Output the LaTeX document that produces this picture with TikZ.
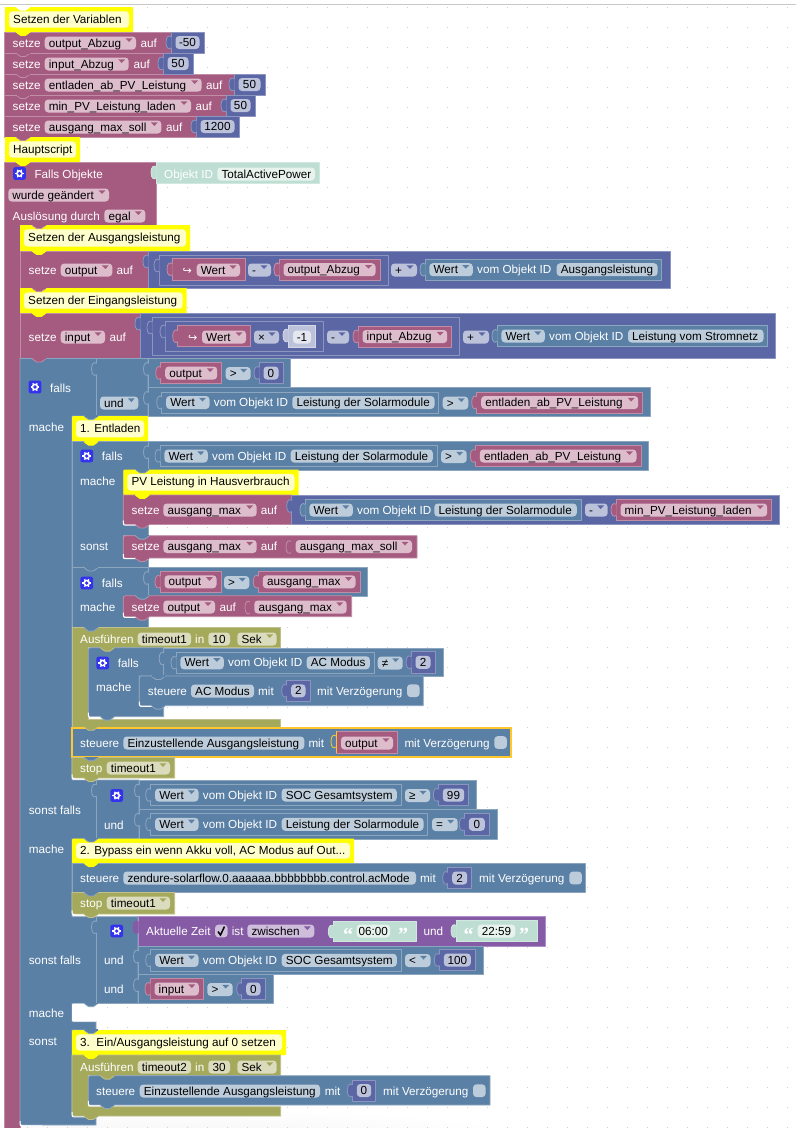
\documentclass[tikz,border=0pt]{standalone}
\usepackage{fontspec}
\setmainfont{Liberation Sans}
\newfontfamily\djv{DejaVu Sans}
\newfontfamily\qfont{Liberation Serif}
\definecolor{vmain}{HTML}{A55B80}\definecolor{vlight}{HTML}{C08CA6}\definecolor{vfld}{HTML}{DDBDCC}
\definecolor{lmain}{HTML}{5B80A5}\definecolor{llight}{HTML}{8CA6C0}\definecolor{lfld}{HTML}{BDCCDB}
\definecolor{mmain}{HTML}{5B67A5}\definecolor{mlight}{HTML}{8C95C0}\definecolor{mfld}{HTML}{BDC2DB}
\definecolor{tmain}{HTML}{A5A95B}\definecolor{tlight}{HTML}{C0C08C}\definecolor{tfld}{HTML}{DBDBBD}
\definecolor{pmain}{HTML}{855BA5}\definecolor{plight}{HTML}{B08CC8}\definecolor{pfld}{HTML}{CEBDDB}
\definecolor{xmain}{HTML}{BEDED3}\definecolor{xlight}{HTML}{D0E8DF}\definecolor{xfld}{HTML}{E8F3EE}
\definecolor{smain}{HTML}{BDC2DB}\definecolor{slight}{HTML}{D5D8E8}\definecolor{sfld}{HTML}{E4E6F0}
\definecolor{ymain}{HTML}{FFFF00}\definecolor{ylight}{HTML}{FFFF00}\definecolor{yfld}{HTML}{FFFFCC}
\definecolor{wmain}{HTML}{FFFFFF}\definecolor{wlight}{HTML}{FFFFFF}
\definecolor{hl}{HTML}{FFC72C}
\definecolor{gearblue}{HTML}{3333EE}
\newcount\Btc
\newcommand{\Bnm}{\global\advance\Btc by 1 }
\tikzset{
  blk/.style={line width=.8pt,line join=round},
  lab/.style={inner sep=0pt,anchor=base west,text=white,font=\fontsize{11.7}{14}\selectfont},
  dark/.style={inner sep=0pt,anchor=base west,text=black,font=\fontsize{11.7}{14}\selectfont},
  darkc/.style={inner sep=0pt,anchor=base,text=black,font=\fontsize{11.7}{14}\selectfont},
}
\newcommand{\Bbox}[5]{\draw[blk,fill=#1main,draw=#1light] (#2,#3) rectangle (#4,#5);}
\newcommand{\Bst}[7]{\draw[blk,fill=#1main,draw=#1light] (#2,#3+#6) .. controls (#2,#3) .. (#2+#6,#3) -- (#4,#3) -- (#4,#5) -- (#2+#7,#5) .. controls (#2,#5) .. (#2,#5-#7) -- cycle;}
\newcommand{\Btab}[4]{%
  \fill[#1] (#3+.6,#4+5) .. controls (#3-2,#4+3) and (#3-5,#4+4.5) .. (#3-5,#4+10.5) .. controls (#3-5,#4+16.5) and (#3-2,#4+18) .. (#3+.6,#4+16) -- cycle;
  \draw[#2,line width=.8pt] (#3,#4+5) .. controls (#3-2,#4+3) and (#3-5,#4+4.5) .. (#3-5,#4+10.5) .. controls (#3-5,#4+16.5) and (#3-2,#4+18) .. (#3,#4+16);}
\newcommand{\Bval}[5]{\Bbox{#1}{#2}{#3}{#4}{#5}\Btab{#1main}{#1light}{#2}{#3}}
\newcommand{\Bsep}[3]{\Btab{#1main}{#1light}{#2}{#3}}
\newcommand{\Bnub}[3]{\draw[blk,fill=#1main,draw=#1light] (#2+12,#3) .. controls (#2+14,#3) and (#2+14,#3+3.4) .. (#2+16.5,#3+3.4) -- (#2+21.5,#3+3.4) .. controls (#2+24,#3+3.4) and (#2+24,#3) .. (#2+26,#3);\fill[#1main] (#2+12.5,#3-.6) rectangle (#2+25.5,#3+.6);}
\newcommand{\Bslv}[2]{\draw[white,line width=1pt] (#1,#2-4) .. controls (#1,#2+.7) .. (#1+4,#2+.7) -- (#1+22,#2+.7);}
\newcommand{\Lb}[3]{\Bnm\node[lab] (n\the\Btc) at (#1,#2+4) {#3};}
\newcommand{\Fp}[5]{\Bnm\fill[#1fld,rounded corners=3.5pt] (#2,#4-6.5) rectangle (#3,#4+6.5);\node[dark] (n\the\Btc) at (#2+4,#4+4) {#5};}
\newcommand{\Fc}[5]{\Bnm\fill[#1fld,rounded corners=3.5pt] (#2,#4-6.5) rectangle (#3,#4+6.5);\node[darkc] (n\the\Btc) at ({(#2+#3)/2},#4+4) {#5};}
\newcommand{\Fd}[5]{\Fp{#1}{#2}{#3}{#4}{#5}\fill[#1main] (#3-10.5,#4-4.6) -- (#3-3.5,#4-4.6) -- (#3-7,#4-1) -- cycle;}
\newcommand{\Bvar}[4]{\Bval{v}{#1}{#3-10.6}{#2}{#3+10.6}\Fd{v}{#1+4.5}{#2-4.5}{#3}{#4}}
\newcommand{\Bnum}[4]{\Bval{m}{#1}{#3-10.6}{#2}{#3+10.6}\Fc{m}{#1+4.5}{#2-4.5}{#3}{#4}}
\newcommand{\Bwert}[5]{\Bval{l}{#1}{#3-10.6}{#2}{#3+10.6}\Fd{l}{#1+4.4}{#1+47.8}{#3}{Wert}\Lb{#1+52}{#3}{vom Objekt ID}\Fp{l}{#4}{#2-4.2}{#3}{#5}}
\newcommand{\Bcmt}[6]{\Bnm\fill[ymain] (#1,#4) -- (#1,#3+#6) .. controls (#1,#3) .. (#1+#6,#3) -- (#2,#3) -- (#2,#4) -- cycle;
  \fill[yfld,rounded corners=3.5pt] (#1+4,#3+4.3) rectangle (#2-4,#4-4.3);
  \node[dark] (n\the\Btc) at (#1+8,{(#3+#4)/2+3.6}) {#5};}
\newcommand{\Bgear}[2]{\fill[gearblue,rounded corners=2pt] (#1-6.3,#2-6.3) rectangle (#1+6.3,#2+6.3);
  \fill[white] (#1,#2) circle (3.4);
  \foreach \a in {0,60,120}{\draw[white,line width=1.3pt] (#1,#2) ++(\a:4.3) -- ++(\a+180:8.6);}
  \fill[gearblue] (#1,#2) circle (1.8);}
\newcommand{\Bchk}[3]{\fill[#1fld,rounded corners=3.5pt] (#2,#3-6.4) rectangle (#2+12.6,#3+6.4);}
\begin{document}
\begin{tikzpicture}[x=1pt,y=-1pt]
\useasboundingbox (0,0) rectangle (796,1128);
\fill[white] (0,0) rectangle (796,1128);
\begin{scope}
\clip (0,0) rectangle (796,1128);
\shade[inner color=black!7,outer color=white] (180,1160) ellipse (430 and 52);
\end{scope}
\foreach \i in {0,...,39}{\foreach \j in {0,...,56}{\fill[black!18] (7.2+20*\i,7.2+20*\j) rectangle +(1.1,1.1);}}
\draw[black!22,line width=1pt] (0,4.4) -- (796,4.4);

%%% Setzen der Variablen
\Bcmt{5}{133}{7}{32}{Setzen der Variablen}{0}
\Bnub{w}{4}{6.8}
\Bbox{v}{4}{32}{171}{53}\Bbox{v}{4}{53}{163}{74}\Bbox{v}{4}{74}{234}{95}\Bbox{v}{4}{95}{226}{116}\Bbox{v}{4}{116}{196}{137}
\Bnub{y}{4}{32}\Bnub{v}{4}{53}\Bnub{v}{4}{74}\Bnub{v}{4}{95}
\Lb{12.5}{43}{setze}\Fd{v}{44.7}{136}{43}{output\_Abzug}\Lb{140.5}{43}{auf}
\Bnum{171}{204}{42.5}{-50}
\Lb{12.5}{64}{setze}\Fd{v}{44.7}{128.7}{64}{input\_Abzug}\Lb{133.5}{64}{auf}
\Bnum{163}{193}{63.5}{50}
\Lb{12.5}{85}{setze}\Fd{v}{44.7}{201.7}{85}{entladen\_ab\_PV\_Leistung}\Lb{206}{85}{auf}
\Bnum{234}{265}{84.5}{50}
\Lb{12.5}{106}{setze}\Fd{v}{44.7}{191}{106}{min\_PV\_Leistung\_laden}\Lb{195.5}{106}{auf}
\Bnum{226}{255}{105.5}{50}
\Lb{12.5}{127}{setze}\Fd{v}{44.7}{161.3}{127}{ausgang\_max\_soll}\Lb{166}{127}{auf}
\Bnum{196}{239}{126.5}{1200}

%%% Hauptscript
\Bcmt{5}{80}{137}{162}{Hauptscript}{0}
\Bnub{v}{4}{137}
\draw[blk,fill=vmain,draw=vlight] (4,162) -- (156,162) -- (156,225) -- (20,225) -- (20,1130) -- (4,1130) -- cycle;
\Bnub{y}{4}{162}
\Bgear{19.5}{173.5}\Lb{34.3}{174}{Falls Objekte}
\Bval{x}{156}{162}{319}{183}
\Lb{164}{174}{Objekt ID}\Fp{x}{217.3}{315}{174}{TotalActivePower}
\Fd{v}{8.3}{109}{195}{wurde geändert}
\Lb{12.5}{216}{Auslösung durch}\Fd{v}{104.3}{145.3}{216}{egal}

%%% Setzen der Ausgangsleistung
\Bcmt{20}{190}{225}{251}{Setzen der Ausgangsleistung}{0}
\Bnub{v}{20}{225}
\Bbox{v}{20}{251}{148}{288}
\Bnub{y}{20}{251}
\Lb{28.5}{270}{setze}\Fd{v}{60.7}{112.3}{270}{output}\Lb{116.5}{270}{auf}
\Bval{m}{148}{251}{670}{288}
\Bval{m}{159}{255}{388}{285}
\Bval{v}{172}{258.7}{245}{280.7}
\Bnm\node[lab,font=\fontsize{11}{13}\djv] (n\the\Btc) at (182.5,274) {↪};
\Fd{v}{196.7}{240}{270}{Wert}
\Fd{m}{248}{271}{270}{-}
\Btab{vmain}{vlight}{279}{258.7}
\Bvar{279}{380}{269.7}{output\_Abzug}
\Fd{m}{391}{417}{270}{+}
\Bwert{425}{661.7}{269.7}{556.7}{Ausgangsleistung}

%%% Setzen der Eingangsleistung
\Bcmt{20}{186.7}{288}{313}{Setzen der Eingangsleistung}{0}
\Bnub{v}{20}{288}
\Bbox{v}{20}{313}{140}{358.5}
\Bnub{y}{20}{313}
\Lb{28.5}{337}{setze}\Fd{v}{60.7}{105}{337}{input}\Lb{109.5}{337}{auf}
\Bval{m}{140}{313}{775.3}{358.5}
\Bval{m}{152}{317}{459.3}{355}
\Bval{m}{165}{321}{323.3}{351}
\Bval{v}{177.7}{325.7}{250}{346.7}
\Bnm\node[lab,font=\fontsize{11}{13}\djv] (n\the\Btc) at (188,341) {↪};
\Fd{v}{202}{246}{337}{Wert}
\Fd{m}{254}{279}{337}{×}
\Bval{s}{288}{325}{315}{347}
\Fc{s}{293}{311}{337}{-1}
\Fd{m}{327}{349}{337}{-}
\Bvar{358}{451.7}{336.5}{input\_Abzug}
\Fd{m}{463}{489}{337}{+}
\Bwert{497}{767.7}{336}{628}{Leistung vom Stromnetz}

%%% Grosses falls
\draw[blk,fill=lmain,draw=llight] (20,358.5) -- (148,358.5) -- (148,416) -- (72,416) -- (72,780) -- (139,780) -- (139,839) -- (72,839) -- (72,916.7) -- (138,916.7) -- (138,1003.5) -- (72,1003.5) -- (72,1021.7) -- (96,1021.7) -- (96,1030) -- (72,1030) -- (72,1116) -- (96,1116) -- (96,1125) -- (25,1125) .. controls (20,1125) .. (20,1120) -- cycle;
\Bnub{v}{20}{358.5}
\draw[llight,line width=.8pt] (96,358.5) -- (96,416);
\Bsep{l}{96.5}{358.5}
\Bgear{35}{387}\Lb{50}{388}{falls}
\Fd{l}{100}{138.3}{403}{und}
\Lb{28.7}{427}{mache}
\Bbox{l}{148}{358.5}{290.7}{387.5}\Bsep{l}{148.5}{358.5}
\Bvar{160.7}{221.7}{373}{output}
\Fd{l}{225.7}{250.7}{373.5}{>}
\Bnum{259}{283}{373}{0}
\Bbox{l}{148}{387.5}{650.7}{416}\Bsep{l}{148.5}{387.5}
\Bwert{161.7}{438.7}{402.5}{292.3}{Leistung der Solarmodule}
\Fd{l}{442.7}{468.3}{403}{>}
\Bvar{476.7}{642.7}{402.5}{entladen\_ab\_PV\_Leistung}

%%% 1. Entladen
\Bcmt{72}{148}{416}{441.7}{1. Entladen}{4}
\Bnub{l}{72}{416}
\draw[blk,fill=lmain,draw=llight] (72,441.7) -- (148,441.7) -- (148,470) -- (123.3,470) -- (123.3,524.5) -- (148,524.5) -- (148,535.7) -- (123.3,535.7) -- (123.3,558) -- (148,558) -- (148,567.5) -- (72,567.5) -- cycle;
\Bnub{y}{72}{441.7}
\Bgear{86.7}{456}\Lb{101.7}{456.5}{falls}
\Lb{80}{481}{mache}
\Bbox{l}{148}{441.7}{648.7}{470}\Bsep{l}{148.5}{441.7}
\Bwert{160}{437}{456}{290.7}{Leistung der Solarmodule}
\Fd{l}{441}{466.7}{456.5}{>}
\Bvar{475.3}{641}{456}{entladen\_ab\_PV\_Leistung}

\Bcmt{123.3}{298.5}{469.5}{495}{PV Leistung in Hausverbrauch}{4}
\Bnub{l}{123.3}{469.5}
\Bst{v}{123.3}{495}{291.7}{524.5}{0}{5}
\Bslv{123.3}{524.5}
\Bnub{y}{123.3}{495}
\Bnub{v}{123.3}{524.5}
\Lb{131.5}{510}{setze}\Fd{v}{163.3}{256.7}{510}{ausgang\_max}\Lb{260.7}{510}{auf}
\Bval{m}{291.7}{495.5}{779.3}{524.5}
\Bwert{305}{581}{510}{434.3}{Leistung der Solarmodule}
\Fd{m}{585}{607.7}{510}{-}
\Bvar{616}{771.7}{510}{min\_PV\_Leistung\_laden}
\Lb{80}{546}{sonst}
\Bst{v}{123.3}{535.7}{417}{558}{5}{5}
\Bslv{123.3}{558}
\Bnub{l}{123.3}{535.7}
\Bnub{v}{123.3}{558}
\Lb{131.5}{546.5}{setze}\Fd{v}{163.3}{256.7}{546.5}{ausgang\_max}\Lb{260.7}{546.5}{auf}
\Btab{vmain}{vlight}{291}{536.5}
\Fd{v}{295.7}{412}{546.5}{ausgang\_max\_soll}

%%% falls 2
\draw[blk,fill=lmain,draw=llight] (72,567.5) -- (148,567.5) -- (148,596) -- (123.3,596) -- (123.3,616.7) -- (148,616.7) -- (148,627.7) -- (72,627.7) -- cycle;
\Bnub{l}{72}{567.5}
\Bgear{86.7}{583}\Lb{101.7}{583.5}{falls}
\Lb{80}{607}{mache}
\Bbox{l}{148}{567.5}{367.7}{596}\Bsep{l}{148.5}{567.5}
\Bvar{160}{221}{581.8}{output}
\Fd{l}{224}{249.3}{582.5}{>}
\Bvar{258.3}{360}{581.8}{ausgang\_max}
\Bst{v}{123.3}{595.7}{351.7}{616.7}{5}{5}
\Bslv{123.3}{616.7}
\Bnub{l}{123.3}{595.7}
\Bnub{v}{123.3}{616.7}
\Lb{131.5}{607}{setze}\Fd{v}{163.3}{215}{607}{output}\Lb{219.3}{607}{auf}
\Btab{vmain}{vlight}{250}{597}
\Fd{v}{254.3}{346.7}{607}{ausgang\_max}

%%% Ausfuehren timeout1
\draw[blk,fill=tmain,draw=tlight] (72,627.7) -- (280.7,627.7) -- (280.7,647.7) -- (88.3,647.7) -- (88.3,719) -- (280.7,719) -- (280.7,727) -- (72,727) -- cycle;
\Bnub{l}{72}{627.7}
\Lb{80}{639}{Ausführen}\Fp{t}{137.7}{191}{639}{timeout1}\Lb{195}{639}{in}\Fc{t}{208.3}{230}{639}{10}\Fd{t}{237.3}{276.7}{639}{Sek}
\draw[blk,fill=lmain,draw=llight] (88.3,652.7) .. controls (88.3,647.7) .. (93.3,647.7) -- (163.7,647.7) -- (163.7,676) -- (139.3,676) -- (139.3,705.7) -- (163.7,705.7) -- (163.7,716.7) -- (93.3,716.7) .. controls (88.3,716.7) .. (88.3,711.7) -- cycle;
\Bslv{88.3}{716.7}
\Bnub{t}{88.3}{647.7}
\Bnub{l}{88.3}{716.7}
\Bgear{102.7}{663}\Lb{117.7}{663.5}{falls}
\Lb{96}{687}{mache}
\Bbox{l}{163.7}{648}{443}{676}\Bsep{l}{164.2}{648}
\Bwert{176}{374}{662.8}{306.7}{AC Modus}
\Fd{l}{377.7}{402.7}{663}{≠}
\Bnum{411}{435}{662.3}{2}
\Bst{l}{139.3}{676}{423.3}{705.7}{5}{5}
\Bslv{139.3}{705.7}
\Bnub{l}{139.3}{676}
\Bnub{l}{139.3}{705.7}
\Lb{147.7}{691}{steuere}\Fp{l}{191}{254}{691}{AC Modus}\Lb{258}{691}{mit}
\Bnum{286.7}{310}{690.8}{2}
\Lb{317}{691}{mit Verzögerung}\Bchk{l}{407}{690.7}

%%% steuere Einzustellende
\draw[fill=lmain,draw=hl,line width=1.7pt] (72,727.7) rectangle (511,756.7);
\Bnub{t}{72}{726.8}
\Lb{80}{743}{steuere}\Fp{l}{123.3}{304.3}{743}{Einzustellende Ausgangsleistung}\Lb{308.3}{743}{mit}
\Bbox{v}{336}{731}{397.7}{753}\Btab{lmain}{hl}{336}{731}
\draw[hl,line width=.9pt] (336,731) -- (336,753);
\Fd{v}{341}{393}{743}{output}
\Lb{404.3}{743}{mit Verzögerung}\Bchk{l}{494.3}{742.5}

%%% stop timeout1
\Bst{t}{72}{757.5}{174.7}{778}{0}{5}
\Bslv{72}{778.4}
\Bnub{l}{72}{757.3}
\Lb{80}{768}{stop}\Fd{t}{106.7}{170}{768}{timeout1}
\Bnub{t}{72}{778}

%%% sonst falls 1
\draw[llight,line width=.8pt] (96,780) -- (96,839);
\Bsep{l}{96.5}{780}
\Lb{28.7}{810}{sonst falls}
\Bgear{116.7}{795.5}
\Lb{104}{825}{und}
\Bbox{l}{139}{780}{476.5}{809.3}\Bsep{l}{139.5}{780}
\Bwert{150.7}{401}{795}{281.7}{SOC Gesamtsystem}
\Fd{l}{405}{430}{795.5}{≥}
\Bnum{438.3}{468.7}{795}{99}
\Bbox{l}{139}{809.3}{497.5}{839}\Bsep{l}{139.5}{809.3}
\Bwert{150.7}{427.7}{824.3}{281.7}{Leistung der Solarmodule}
\Fd{l}{432}{457.7}{824.5}{=}
\Bnum{464.3}{489.3}{824.3}{0}

%%% 2. Bypass
\Lb{28.7}{849.5}{mache}
\Bcmt{72}{354}{838.5}{863}{2. Bypass ein wenn Akku voll, AC Modus auf Out...}{4}
\Bnub{l}{72}{838.5}
\Bbox{l}{72}{863.3}{585.3}{892.5}
\Bnub{y}{72}{863.2}
\Lb{80}{878}{steuere}\Fp{l}{123.3}{416}{878}{zendure-solarflow.0.aaaaaa.bbbbbbbb.control.acMode}\Lb{420}{878}{mit}
\Bnum{447.7}{471.7}{878}{2}
\Lb{479}{878}{mit Verzögerung}\Bchk{l}{569.3}{878}
\Bst{t}{72}{892.5}{174.7}{914}{0}{5}
\Bslv{72}{914.3}
\Bnub{l}{72}{892.5}
\Lb{80}{903}{stop}\Fd{t}{106.7}{170}{903}{timeout1}
\Bnub{t}{72}{914}

%%% sonst falls 2
\draw[llight,line width=.8pt] (96,916.7) -- (96,1003.5);
\Bsep{l}{96.5}{916.7}
\Lb{28.7}{960}{sonst falls}
\Bgear{116.7}{931}
\Lb{104}{960}{und}\Lb{104}{989}{und}
\Bbox{p}{138}{916.7}{545.3}{946}
\Btab{pmain}{pmain}{138}{916.7}
\Lb{146}{931}{Aktuelle Zeit}
\Bchk{p}{215}{931}
\draw[black,line width=1.5pt] (218,931.5) -- (220.5,935) -- (224.5,926.5);
\Lb{231.7}{931}{ist}
\Fd{p}{247.3}{314.3}{931}{zwischen}
\Bval{x}{333.3}{921}{416}{941.8}
\Bnm\node[lab,font=\fontsize{20}{20}\qfont\bfseries] (n\the\Btc) at (342.8,941) {“};
\Fc{x}{356.7}{390}{931}{06:00}
\Bnm\node[lab,font=\fontsize{20}{20}\qfont\bfseries] (n\the\Btc) at (397.8,941) {”};
\Lb{423.3}{931}{und}
\Bval{x}{456}{920.5}{537.7}{941.8}
\Bnm\node[lab,font=\fontsize{20}{20}\qfont\bfseries] (n\the\Btc) at (463.5,941) {“};
\Fc{x}{477.7}{515.3}{931}{22:59}
\Bnm\node[lab,font=\fontsize{20}{20}\qfont\bfseries] (n\the\Btc) at (519,941) {”};
\Bbox{l}{138}{946}{483.5}{974.7}\Bsep{l}{138.5}{946}
\Bwert{150.7}{401}{960.3}{281.7}{SOC Gesamtsystem}
\Fd{l}{405}{430.5}{960.5}{<}
\Bnum{439.3}{475.3}{960}{100}
\Bbox{l}{138}{974.7}{273}{1003.5}\Bsep{l}{138.5}{974.7}
\Bvar{150}{203.3}{989}{input}
\Fd{l}{207.3}{232.7}{989.5}{>}
\Bnum{241.7}{265}{989}{0}

%%% leeres mache
\Lb{28.7}{1013}{mache}
\fill[white] (72,1008) .. controls (72,1003.5) .. (76,1003.5) -- (96,1003.5) -- (96,1021.7) -- (76,1021.7) .. controls (72,1021.7) .. (72,1017) -- cycle;
\Bnub{l}{72}{1003.2}
\Lb{28.7}{1041}{sonst}

%%% 3. Ein/Ausgangsleistung
\Bcmt{72}{286}{1030}{1055}{3.\ \ Ein/Ausgangsleistung auf 0 setzen}{4}
\Bnub{l}{72}{1030}
\draw[blk,fill=tmain,draw=tlight] (72,1055) -- (280.7,1055) -- (280.7,1075.7) -- (88.3,1075.7) -- (88.3,1106.7) -- (280.7,1106.7) -- (280.7,1116) -- (77,1116) .. controls (72,1116) .. (72,1111) -- cycle;
\Bslv{72}{1116.2}
\Bnub{y}{72}{1055}
\Lb{80}{1067}{Ausführen}\Fp{t}{137.7}{191}{1067}{timeout2}\Lb{195}{1067}{in}\Fc{t}{208.3}{230}{1067}{30}\Fd{t}{237.3}{276.7}{1067}{Sek}
\Bst{l}{88.3}{1075.7}{490}{1105}{5}{5}
\Bslv{88.3}{1105.2}
\Bnub{t}{88.3}{1075.7}
\Bnub{l}{88.3}{1105}
\Lb{96}{1091}{steuere}\Fp{l}{139.7}{320}{1091}{Einzustellende Ausgangsleistung}\Lb{324.7}{1091}{mit}
\Bnum{352.3}{375.7}{1090.5}{0}
\Lb{383}{1091}{mit Verzögerung}\Bchk{l}{473}{1090.7}
\Bnub{t}{72}{1116}
\Bslv{20}{1125.2}
\end{tikzpicture}
\end{document}
